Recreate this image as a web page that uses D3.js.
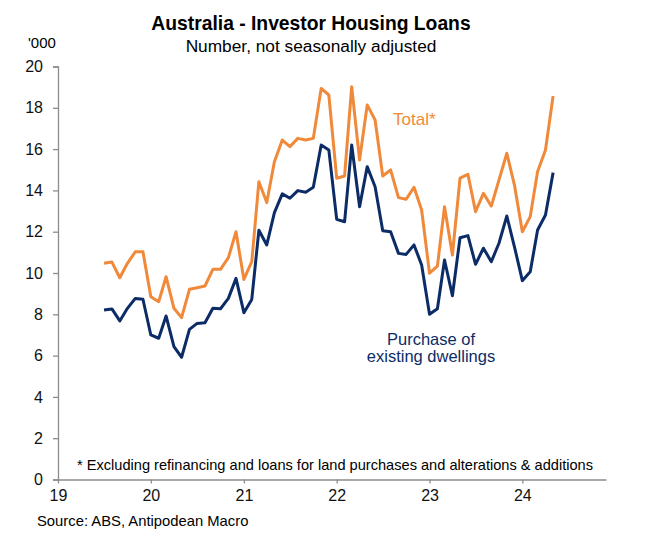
<!DOCTYPE html>
<html>
<head>
<meta charset="utf-8">
<script src="https://cdn.jsdelivr.net/npm/d3@7"></script>
<style>
  body { margin: 0; background: #fff; }
  text { font-family: "Liberation Sans", Arial, sans-serif; }
</style>
</head>
<body>
<div id="chart"></div>
<script>
// monthly, Jul 2019 .. May 2024 ('000 loans)
var startYear = 2019
var startMonth = 6 // July (0-based)

var totalLoans = [10.47, 10.53, 9.77, 10.47, 11.03, 11.03, 8.85, 8.61, 9.82, 8.29,
    7.84, 9.21, 9.29, 9.37, 10.18, 10.18, 10.74, 12.0, 9.69, 10.55,
    14.42, 13.41, 15.39, 16.44, 16.12, 16.52, 16.44, 16.52, 18.94, 18.62,
    14.59, 14.7, 19.02, 15.47, 18.14, 17.41, 14.7, 14.99, 13.65, 13.57,
    14.15, 13.05, 9.99, 10.33, 13.21, 10.87, 14.59, 14.78, 12.97, 13.86,
    13.24, 14.5, 15.8, 14.26, 12.0, 12.73, 14.91, 15.96, 18.57]

var existingDwellings = [8.21, 8.26, 7.68, 8.29, 8.77, 8.73, 7.0, 6.84, 7.92, 6.43,
    5.92, 7.27, 7.56, 7.59, 8.29, 8.27, 8.77, 9.74, 8.08, 8.72,
    12.07, 11.36, 12.92, 13.83, 13.62, 13.99, 13.91, 14.15, 16.2, 15.96,
    12.6, 12.48, 16.2, 13.21, 15.15, 14.18, 12.05, 12.0, 10.95, 10.9,
    11.36, 10.39, 8.0, 8.27, 10.63, 8.9, 11.71, 11.81, 10.42, 11.2,
    10.55, 11.44, 12.76, 11.27, 9.63, 10.06, 12.08, 12.81, 14.86]

var yTicks = [0, 2, 4, 6, 8, 10, 12, 14, 16, 18, 20]
var xTickYears = [2019, 2020, 2021, 2022, 2023, 2024]

var width = 648
var height = 539
var margin = {top: 66.5, left: 58, right: 42, bottom: 59.5}

var orange = "#F0893A"
var navy = "#0C2C67"
var axisColor = "#8c8c8c"

function monthDate(i) {
    return new Date(startYear, startMonth + i, 1)
}

function drawChart() {
    var svg = d3.select("#chart")
        .append("svg")
        .attr("width", width)
        .attr("height", height)

    var x = d3.scaleTime()
        .domain([new Date(2019, 0, 1), new Date(2024, 10, 25)])
        .range([margin.left, width - margin.right])
    var y = d3.scaleLinear()
        .domain([0, 20])
        .range([height - margin.bottom, margin.top])

    // title
    svg.append("text")
        .attr("x", 311).attr("y", 30)
        .attr("text-anchor", "middle")
        .style("font-size", "19.3px").style("font-weight", "bold")
        .text("Australia - Investor Housing Loans")
    svg.append("text")
        .attr("x", 311).attr("y", 52)
        .attr("text-anchor", "middle")
        .style("font-size", "17.3px")
        .text("Number, not seasonally adjusted")

    svg.append("text")
        .attr("x", 28).attr("y", 48)
        .style("font-size", "15px")
        .text("'000")

    // y axis
    var yAxis = svg.append("g")
        .attr("transform", "translate(" + margin.left + ",0)")
        .call(d3.axisLeft(y).tickValues(yTicks).tickSize(5).tickPadding(10))
    yAxis.selectAll("text").style("font-size", "16px").attr("fill", "#111")

    // x axis
    var xAxis = svg.append("g")
        .attr("transform", "translate(0," + y(0) + ")")
        .call(d3.axisBottom(x)
            .tickValues(xTickYears.map(yr => new Date(yr, 0, 1)))
            .tickFormat(d3.timeFormat("%y"))
            .tickSize(4).tickPadding(6).tickSizeOuter(0))
    xAxis.selectAll("text").style("font-size", "16px").attr("fill", "#111")

    svg.selectAll(".domain, .tick line").attr("stroke", axisColor).attr("stroke-width", 1.3)

    var line = d3.line()
        .x((d, i) => x(monthDate(i)))
        .y(d => y(d))

    svg.append("path")
        .datum(totalLoans)
        .attr("fill", "none")
        .attr("stroke", orange)
        .attr("stroke-width", 3)
        .attr("stroke-linejoin", "round")
        .attr("d", line)

    svg.append("path")
        .datum(existingDwellings)
        .attr("fill", "none")
        .attr("stroke", navy)
        .attr("stroke-width", 3)
        .attr("stroke-linejoin", "round")
        .attr("d", line)

    // series labels
    svg.append("text")
        .attr("x", 393).attr("y", 125)
        .attr("fill", orange)
        .style("font-size", "17px")
        .text("Total*")
    svg.append("text")
        .attr("x", 431).attr("y", 345)
        .attr("text-anchor", "middle")
        .attr("fill", navy)
        .style("font-size", "16.5px")
        .text("Purchase of")
    svg.append("text")
        .attr("x", 431).attr("y", 362)
        .attr("text-anchor", "middle")
        .attr("fill", navy)
        .style("font-size", "16.5px")
        .text("existing dwellings")

    // notes
    svg.append("text")
        .attr("x", 77).attr("y", 470)
        .style("font-size", "14.6px")
        .text("* Excluding refinancing and loans for land purchases and alterations & additions")
    svg.append("text")
        .attr("x", 37).attr("y", 526)
        .style("font-size", "14.8px")
        .text("Source: ABS, Antipodean Macro")
}

drawChart()
</script>
</body>
</html>
